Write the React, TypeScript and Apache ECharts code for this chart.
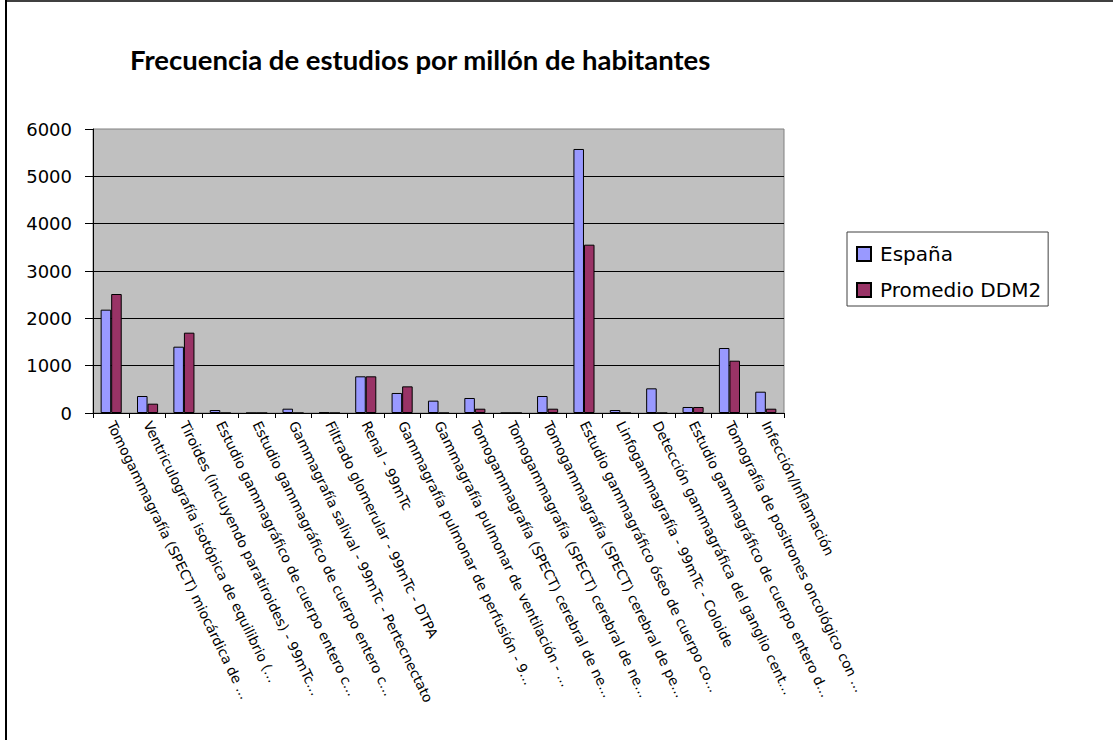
import React, { useEffect, useRef } from "react";
import * as echarts from "echarts";

const categories: string[] = [
  "Tomogammagrafía (SPECT) miocárdica de ...",
  "Ventriculografía isotópica de equilibrio (...",
  "Tiroides (incluyendo paratiroides) - 99mTc...",
  "Estudio gammagráfico de cuerpo entero c...",
  "Estudio gammagráfico de cuerpo entero c...",
  "Gammagrafía salival - 99mTc - Pertecnectato",
  "Filtrado glomerular - 99mTc - DTPA",
  "Renal - 99mTc",
  "Gammagrafía pulmonar de perfusión - 9...",
  "Gammagrafía pulmonar de ventilación - ...",
  "Tomogammagrafía (SPECT) cerebral de ne...",
  "Tomogammagrafía (SPECT) cerebral de ne...",
  "Tomogammagrafía (SPECT) cerebral de pe...",
  "Estudio gammagráfico óseo de cuerpo co...",
  "Linfogammagrafía - 99mTc - Coloide",
  "Detección gammagráfica del ganglio cent...",
  "Estudio gammagráfico de cuerpo entero d...",
  "Tomografía de positrones oncológico con ...",
  "Infección/Inflamación",
];

const espana: number[] = [
  2183, 359, 1401, 63, 0, 91, 15, 775, 423, 261, 317, 0, 359, 5578, 63, 521, 127, 1373, 450,
];

const promedio: number[] = [
  2514, 197, 1697, 0, 0, 0, 0, 775, 563, 0, 91, 0, 91, 3556, 0, 0, 127, 1105, 91,
];

const seriesNames: string[] = ["España", "Promedio DDM2"];
const titleText = "Frecuencia de estudios por millón de habitantes";

export default function App() {
  const ref = useRef<HTMLDivElement>(null);
  useEffect(() => {
    if (!ref.current) return;
    const chart = echarts.init(ref.current, undefined, { renderer: "svg" });
    chart.setOption({
      animation: false,
      backgroundColor: "#ffffff",
      title: {
        text: titleText,
        left: 125,
        top: 40,
        textStyle: {
          fontFamily: "Lato",
          fontWeight: "bold",
          fontSize: 27.5,
          color: "#000",
        },
      },
      legend: {
        orient: "vertical",
        left: 847,
        top: 232,
        padding: [12, 7, 6, 9],
        itemGap: 16,
        itemWidth: 14,
        itemHeight: 14,
        icon: "rect",
        backgroundColor: "#ffffff",
        borderColor: "#404040",
        borderWidth: 1,
        textStyle: {
          fontFamily: "DejaVu Sans",
          fontSize: 20,
          lineHeight: 20,
          color: "#000",
          padding: [0, 0, 0, 4],
        },
        data: seriesNames,
      },
      grid: {
        left: 93,
        top: 129,
        width: 691,
        height: 284,
        show: true,
        backgroundColor: "#C0C0C0",
        borderColor: "#808080",
        borderWidth: 1,
        containLabel: false,
      },
      xAxis: {
        type: "category",
        data: categories,
        boundaryGap: true,
        axisLine: { show: true, lineStyle: { color: "#000", width: 1 } },
        axisTick: { show: true, length: 5, lineStyle: { color: "#000" } },
        axisLabel: {
          interval: 0,
          rotate: -64,
          margin: 9,
          fontFamily: "DejaVu Sans",
          fontSize: 13.8,
          color: "#000",
        },
        splitLine: { show: false },
      },
      yAxis: {
        type: "value",
        min: 0,
        max: 6000,
        interval: 1000,
        axisLine: { show: true, lineStyle: { color: "#000", width: 1 } },
        axisTick: { show: true, length: 8, lineStyle: { color: "#000" } },
        axisLabel: {
          margin: 21,
          fontFamily: "DejaVu Sans",
          fontSize: 18,
          color: "#000",
          formatter: (v: number) => String(v),
        },
        splitLine: {
          show: true,
          showMinLine: false,
          showMaxLine: false,
          lineStyle: { color: "#000", width: 1 },
        },
      },
      series: [
        {
          name: seriesNames[0],
          type: "bar",
          data: espana,
          barGap: "0%",
          barCategoryGap: "42%",
          itemStyle: { color: "#9999FF", borderColor: "#000", borderWidth: 1 },
        },
        {
          name: seriesNames[1],
          type: "bar",
          data: promedio,
          barGap: "0%",
          barCategoryGap: "42%",
          itemStyle: { color: "#993366", borderColor: "#000", borderWidth: 1 },
        },
      ],
      graphic: [
        {
          type: "line",
          shape: { x1: 6, y1: 0, x2: 6, y2: 740 },
          style: { stroke: "#000", lineWidth: 2 },
        },
        {
          type: "line",
          shape: { x1: 5, y1: 1, x2: 1113, y2: 1 },
          style: { stroke: "#000", lineWidth: 1.5 },
        },
      ],
    });
    return () => chart.dispose();
  }, []);
  return (
    <div
      ref={ref}
      style={{ position: "absolute", left: 0, top: 0, width: 1113, height: 740 }}
    />
  );
}
